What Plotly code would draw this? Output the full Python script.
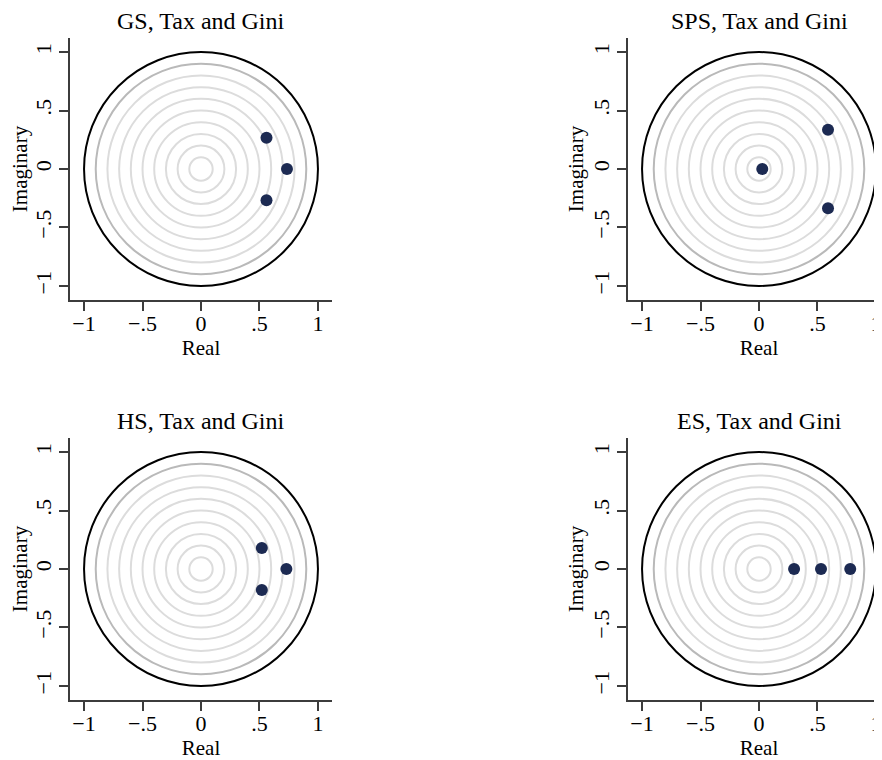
import plotly.graph_objects as go

# ---- data ----
panel_titles = ["GS, Tax and Gini", "SPS, Tax and Gini", "HS, Tax and Gini", "ES, Tax and Gini"]
gs_real = [0.735, 0.56, 0.56]
gs_imag = [0.0, 0.267, -0.267]
sps_real = [0.028, 0.59, 0.59]
sps_imag = [0.0, 0.335, -0.335]
hs_real = [0.73, 0.52, 0.52]
hs_imag = [0.0, 0.18, -0.18]
es_real = [0.30, 0.53, 0.78]
es_imag = [0.0, 0.0, 0.0]
ring_radii = [0.1, 0.2, 0.3, 0.4, 0.5, 0.6, 0.7, 0.8]
outer_ring_radius = 0.9
unit_radius = 1.0
tick_vals = [-1, -0.5, 0, 0.5, 1]
tick_text = ["\u22121", "\u2212.5", "0", ".5", "1"]

series = [(gs_real, gs_imag), (sps_real, sps_imag), (hs_real, hs_imag), (es_real, es_imag)]

W, H = 882, 760
FONT = "Liberation Serif"
NAVY = "#1c2a52"
AXCOL = "#3c3c3c"

# pixel layout of each panel (left, right, top, bottom) in figure pixels
# (the page adds an 8px body margin, so figure px = screen px - 8)
panels_px = [(62, 324, 30, 292), (620, 882, 30, 292), (62, 324, 430, 692), (620, 882, 430, 692)]

fig = go.Figure()
shapes = []
annotations = []

for i, ((xs, ys), (l, r, t, b)) in enumerate(zip(series, panels_px)):
    n = i + 1
    xa = "x" if n == 1 else f"x{n}"
    ya = "y" if n == 1 else f"y{n}"
    xkey = "xaxis" if n == 1 else f"xaxis{n}"
    ykey = "yaxis" if n == 1 else f"yaxis{n}"

    for rr in ring_radii:
        shapes.append(dict(type="circle", xref=xa, yref=ya, x0=-rr, x1=rr, y0=-rr, y1=rr,
                           line=dict(color="#dcdcdc", width=2), layer="below"))
    shapes.append(dict(type="circle", xref=xa, yref=ya, x0=-outer_ring_radius, x1=outer_ring_radius,
                       y0=-outer_ring_radius, y1=outer_ring_radius,
                       line=dict(color="#b9b9b9", width=2), layer="below"))
    shapes.append(dict(type="circle", xref=xa, yref=ya, x0=-unit_radius, x1=unit_radius,
                       y0=-unit_radius, y1=unit_radius,
                       line=dict(color="#000000", width=2), layer="below"))

    fig.add_trace(go.Scatter(x=xs, y=ys, mode="markers", xaxis=xa, yaxis=ya,
                             marker=dict(color=NAVY, size=12, line=dict(width=0)),
                             showlegend=False, hoverinfo="skip"))

    axis_common = dict(showgrid=False, zeroline=False, showline=True, linecolor=AXCOL, linewidth=1.5,
                       ticks="outside", ticklen=9, tickwidth=1.5, tickcolor=AXCOL,
                       tickvals=tick_vals, ticktext=tick_text,
                       tickfont=dict(family=FONT, size=22, color="#000"))
    fig.layout[xkey] = dict(axis_common, domain=[l / W, r / W], range=[-1.12, 1.12],
                            anchor=ya, fixedrange=True, ticklabelstandoff=-6,
                            title=dict(text="Real", font=dict(family=FONT, size=21, color="#000"), standoff=0))
    fig.layout[ykey] = dict(axis_common, domain=[(H - b) / H, (H - t) / H], range=[-1.12, 1.12],
                            anchor=xa, tickangle=-90, fixedrange=True, ticklabelstandoff=-1,
                            title=dict(text="Imaginary", font=dict(family=FONT, size=21, color="#000"), standoff=0))

    annotations.append(dict(text=panel_titles[i], xref=xa, yref="paper", x=0, y=(H - t + 17) / H,
                            xanchor="center", yanchor="middle", showarrow=False,
                            font=dict(family=FONT, size=24, color="#000")))

fig.update_layout(width=W, height=H, margin=dict(l=0, r=0, t=0, b=0),
                  paper_bgcolor="white", plot_bgcolor="white",
                  shapes=shapes, annotations=annotations, showlegend=False)

fig.write_html("out.html")
